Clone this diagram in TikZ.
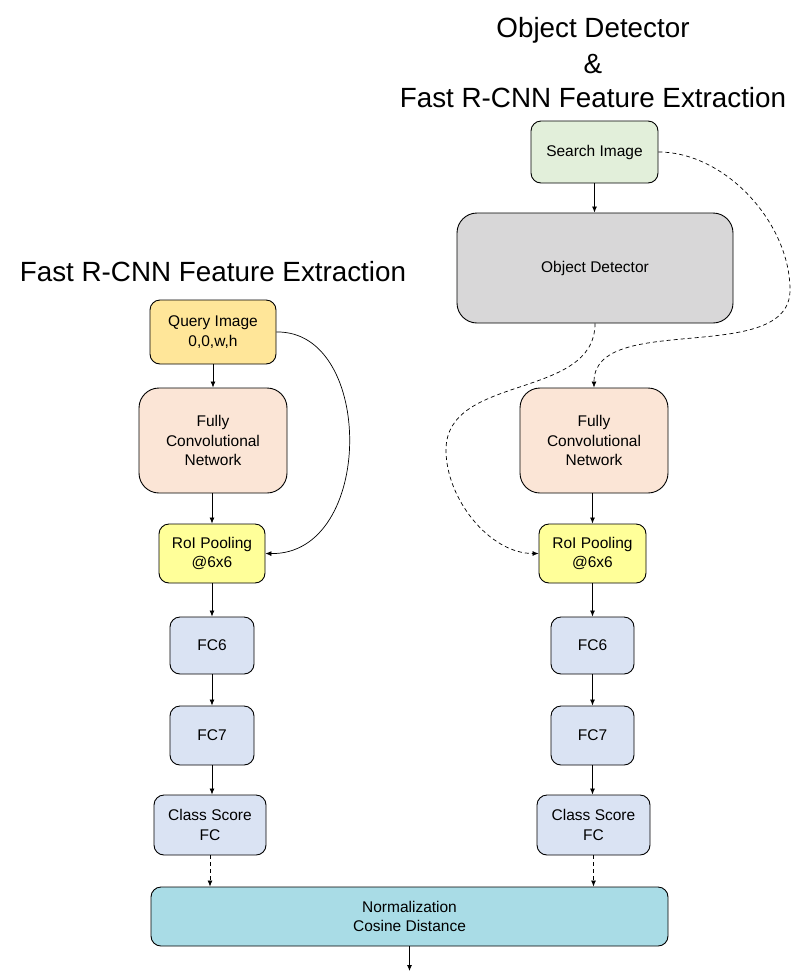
\documentclass[tikz,border=0pt]{standalone}
\usepackage{fontspec}
\setmainfont{Liberation Sans}
\usetikzlibrary{arrows.meta}
\definecolor{cSearch}{HTML}{E2EFDA}
\definecolor{cDet}{HTML}{D8D7D8}
\definecolor{cQuery}{HTML}{FFE699}
\definecolor{cFcn}{HTML}{FBE5D6}
\definecolor{cRoi}{HTML}{FFFF99}
\definecolor{cFc}{HTML}{DAE3F3}
\definecolor{cNorm}{HTML}{A9DCE6}
\tikzset{
  box/.style={draw=black, line width=0.9pt, rounded corners=10pt, align=center, inner sep=0pt,
    font=\fontsize{15.5}{19.5}\selectfont},
  bigbox/.style={box, rounded corners=20pt},
  title/.style={font=\fontsize{27.8}{34}\selectfont, inner sep=0pt},
  arr/.style={-{Latex[length=6pt,width=5pt]}, line width=0.8pt},
  darr/.style={arr, dashed, dash pattern=on 4pt off 3pt},
}
\begin{document}
\begin{tikzpicture}[x=1pt,y=-1pt]
\useasboundingbox (0,0) rectangle (807,975);
% titles
\node[title] (t1) at (593,30) {Object Detector};
\node[title] (t2) at (593,64) {\&};
\node[title] (t3) at (593,98) {Fast R-CNN Feature Extraction};
\node[title] (t4) at (213,272) {Fast R-CNN Feature Extraction};
% right column
\node[box, fill=cSearch, minimum width=127pt, minimum height=62pt] (si) at (594.5,152) {Search Image};
\node[bigbox, fill=cDet, minimum width=276pt, minimum height=110pt] (od) at (595,268) {Object Detector};
\node[bigbox, fill=cFcn, minimum width=148pt, minimum height=105pt] (rfcn) at (594,440.5) {Fully\\Convolutional\\Network};
\node[box, fill=cRoi, minimum width=107pt, minimum height=59pt] (rroi) at (592.5,553.5) {RoI Pooling\\@6x6};
\node[box, fill=cFc, minimum width=83pt, minimum height=57pt] (rfc6) at (592.5,645.5) {FC6};
\node[box, fill=cFc, minimum width=83pt, minimum height=59pt] (rfc7) at (592.5,735.5) {FC7};
\node[box, fill=cFc, minimum width=113pt, minimum height=60pt] (rcs) at (593.5,825) {Class Score\\FC};
% left column
\node[box, fill=cQuery, minimum width=126pt, minimum height=64pt] (qi) at (213,332) {Query Image\\0,0,w,h};
\node[bigbox, fill=cFcn, minimum width=148pt, minimum height=105pt] (lfcn) at (213,440.5) {Fully\\Convolutional\\Network};
\node[box, fill=cRoi, minimum width=106pt, minimum height=59pt] (lroi) at (212,553.5) {RoI Pooling\\@6x6};
\node[box, fill=cFc, minimum width=84pt, minimum height=57pt] (lfc6) at (212,645.5) {FC6};
\node[box, fill=cFc, minimum width=84pt, minimum height=59pt] (lfc7) at (212,735.5) {FC7};
\node[box, fill=cFc, minimum width=112pt, minimum height=60pt] (lcs) at (210,825) {Class Score\\FC};
% normalization
\node[box, fill=cNorm, minimum width=517pt, minimum height=59pt] (norm) at (409.5,916.5) {Normalization\\Cosine Distance};
\coordinate (out) at (409.5,971);
% straight arrows
\draw[arr] (si.south) -- (si.south |- od.north);
\draw[arr] (qi.south) -- (qi.south |- lfcn.north);
\draw[arr] (lroi.north |- lfcn.south) -- (lroi.north);
\draw[arr] (lroi.south) -- (lfc6.north);
\draw[arr] (lfc6.south) -- (lfc7.north);
\draw[arr] (lfc7.south) -- (lfc7.south |- lcs.north);
\draw[arr] (rroi.north |- rfcn.south) -- (rroi.north);
\draw[arr] (rroi.south) -- (rfc6.north);
\draw[arr] (rfc6.south) -- (rfc7.north);
\draw[arr] (rfc7.south) -- (rfc7.south |- rcs.north);
\draw[darr] (lcs.south) -- (lcs.south |- norm.north);
\draw[darr] (rcs.south) -- (rcs.south |- norm.north);
\draw[arr] (norm.south) -- (out);
% curved connectors
\draw[arr, line width=0.7pt] (qi.east) .. controls (375,330) and (375,555) .. (lroi.east);
\draw[darr, line width=0.7pt] (si.east) to[out=0, in=90, looseness=0.9] (790,290)
  to[out=-90, in=90, looseness=0.9] (rfcn.north);
\draw[darr, line width=0.7pt] (od.south) to[out=-90, in=90, looseness=1.0] (446,450)
  to[out=-90, in=180, looseness=0.9] (rroi.west);
\end{tikzpicture}
\end{document}
